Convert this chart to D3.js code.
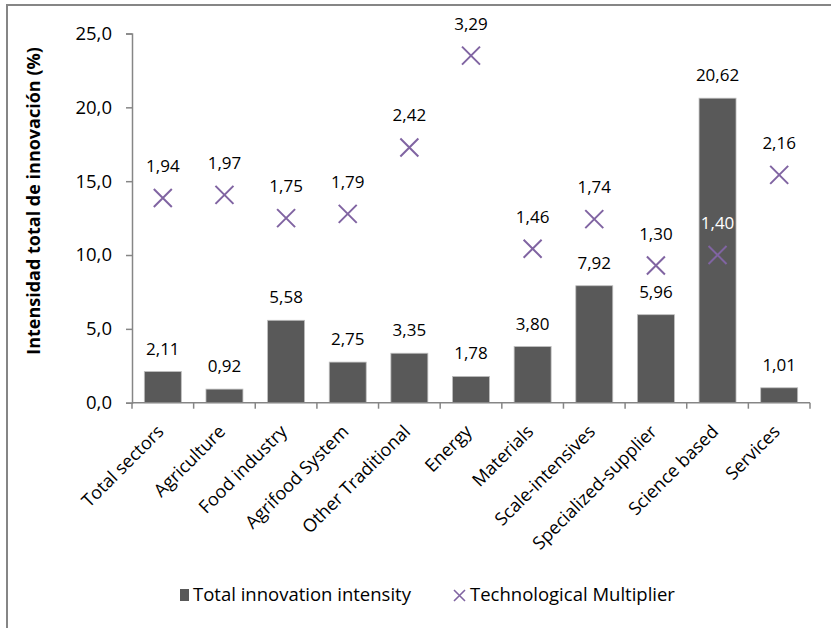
<!DOCTYPE html>
<html>
<head>
<meta charset="utf-8">
<script src="https://cdn.jsdelivr.net/npm/d3@7"></script>
<style>
  html, body { margin: 0; padding: 0; background: #fff; }
  svg { display: block; font-family: "Open Sans", Lato, sans-serif; }
</style>
</head>
<body>
<svg id="chart" width="831" height="628"></svg>
<script>
// Sector categories
const categories = ["Total sectors", "Agriculture", "Food industry", "Agrifood System",
  "Other Traditional", "Energy", "Materials", "Scale-intensives",
  "Specialized-supplier", "Science based", "Services"];
// Total innovation intensity (%)
const intensity = [2.11, 0.92, 5.58, 2.75, 3.35, 1.78, 3.80, 7.92, 5.96, 20.62, 1.01];
// Technological multiplier (secondary, hidden axis)
const multiplier = [1.94, 1.97, 1.75, 1.79, 2.42, 3.29, 1.46, 1.74, 1.30, 1.40, 2.16];
// Primary axis ticks
const yTicks = [0, 5, 10, 15, 20, 25];
const seriesNames = ["Total innovation intensity", "Technological Multiplier"];

const svg = d3.select("#chart");
const plotL = 132, plotR = 810, plotT = 33.5, plotB = 402.7;
const barColor = "#595959", markColor = "#8064A2", axisColor = "#868686";
const fmt = v => d3.format(".2f")(v).replace(".", ",");
const fmtTick = v => d3.format(".1f")(v).replace(".", ",");

// Outer frame
svg.append("rect").attr("x", 7).attr("y", 5).attr("width", 900).attr("height", 700)
  .attr("fill", "none").attr("stroke", axisColor).attr("stroke-width", 2);

const x = d3.scaleBand().domain(categories).range([plotL, plotR]).paddingInner(0.4).paddingOuter(0.2);
const xTick = d3.scaleLinear().domain([0, categories.length]).range([plotL, plotR]);
const y = d3.scaleLinear().domain([0, 25]).range([plotB, plotT]);
const y2 = d3.scaleLinear().domain([0, 3.5]).range([plotB, plotT]);
const cx = d => x(d) + x.bandwidth() / 2;

// Y axis
const yAxis = svg.append("g").attr("transform", `translate(${plotL},0)`)
  .call(d3.axisLeft(y).tickValues(yTicks).tickFormat(fmtTick).tickSize(6).tickPadding(14));
yAxis.select(".domain").attr("stroke", axisColor).attr("stroke-width", 1.5);
yAxis.selectAll(".tick line").attr("stroke", axisColor).attr("stroke-width", 1.5);
yAxis.selectAll(".tick text").attr("font-size", 18.5).attr("fill", "#000")
  .attr("font-family", "'Open Sans', sans-serif");

// Bars
svg.append("g").selectAll("rect").data(categories).join("rect")
  .attr("x", d => x(d)).attr("width", x.bandwidth())
  .attr("y", (d, i) => y(intensity[i]))
  .attr("height", (d, i) => plotB - y(intensity[i]))
  .attr("fill", barColor).attr("stroke", "#bfbfbf").attr("stroke-width", 0.8);

// X axis
const xg = svg.append("g");
xg.append("line").attr("x1", plotL).attr("x2", plotR).attr("y1", plotB).attr("y2", plotB)
  .attr("stroke", axisColor).attr("stroke-width", 1.5);
xg.selectAll("line.tk").data(d3.range(categories.length + 1)).join("line").attr("class", "tk")
  .attr("x1", d => xTick(d)).attr("x2", d => xTick(d))
  .attr("y1", plotB).attr("y2", plotB + 6)
  .attr("stroke", axisColor).attr("stroke-width", 1.5);
xg.selectAll("text").data(categories).join("text")
  .attr("transform", d => `translate(${cx(d) + 2},${plotB + 30}) rotate(-45)`)
  .attr("text-anchor", "end")
  .attr("font-size", 18).attr("fill", "#000").text(d => d);

// Bar value labels
svg.append("g").selectAll("text").data(categories).join("text")
  .attr("x", cx)
  .attr("y", (d, i) => y(intensity[i]) - 17)
  .attr("text-anchor", "middle").attr("font-size", 17).attr("fill", "#000")
  .text((d, i) => fmt(intensity[i]));

// Multiplier markers
const s = 9;
const marks = svg.append("g").selectAll("g").data(categories).join("g")
  .attr("transform", (d, i) => `translate(${cx(d)},${y2(multiplier[i])})`);
marks.append("path").attr("d", `M${-s},${-s}L${s},${s}M${-s},${s}L${s},${-s}`)
  .attr("stroke", markColor).attr("stroke-width", 2).attr("fill", "none");
marks.append("text").attr("y", -26).attr("text-anchor", "middle").attr("font-size", 17)
  .attr("fill", (d, i) => intensity[i] / 25 > multiplier[i] / 3.5 ? "#fff" : "#000")
  .text((d, i) => fmt(multiplier[i]));

// Y axis title
svg.append("text")
  .attr("transform", `translate(40,201) rotate(-90)`)
  .attr("text-anchor", "middle").attr("font-size", 18).attr("font-weight", "bold")
  .attr("fill", "#000").text("Intensidad total de innovación (%)");

// Legend
const lg = svg.append("g");
lg.append("rect").attr("x", 180).attr("y", 589).attr("width", 9).attr("height", 12).attr("fill", barColor);
lg.append("text").attr("x", 193).attr("y", 601).attr("font-size", 18.5).attr("fill", "#000").text(seriesNames[0]);
lg.append("path").attr("d", "M454,590L465,601M454,601L465,590")
  .attr("stroke", markColor).attr("stroke-width", 1.6);
lg.append("text").attr("x", 470).attr("y", 601).attr("font-size", 18.5).attr("fill", "#000").text(seriesNames[1]);
</script>
</body>
</html>
